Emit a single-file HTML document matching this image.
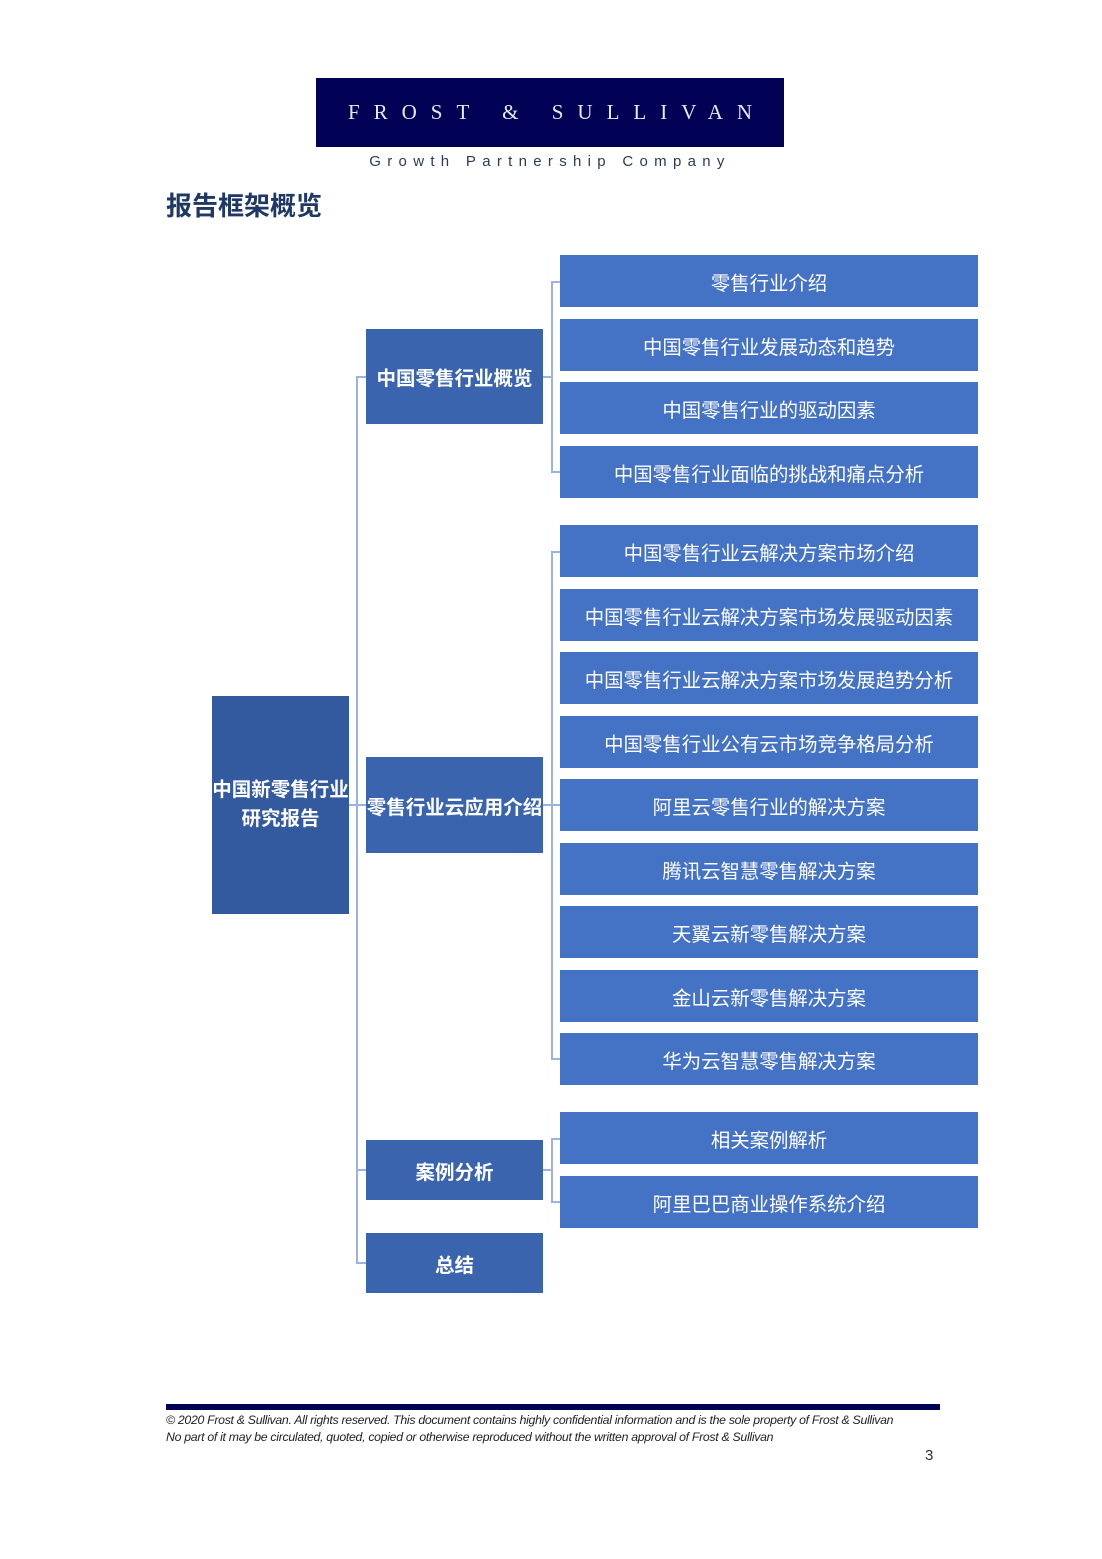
<!DOCTYPE html>
<html><head><meta charset="utf-8"><style>
body{margin:0;width:1102px;height:1559px;background:#fff;position:relative;font-family:"Liberation Sans","Noto Sans CJK SC",sans-serif;overflow:hidden}
.a{position:absolute}
.b{position:absolute;display:flex;align-items:center;justify-content:center;color:#fff;text-align:center}
.r{left:560px;width:418px;height:52px;background:#4472c4;font-size:19.4px}
.m{left:366px;width:177px;background:#3b64ae;font-size:19.5px;font-weight:bold;white-space:nowrap}
.ln{position:absolute;background:#9db3dd}
</style></head><body>
<div class="b" style="left:316px;top:78px;width:468px;height:69px;background:#000055;font-family:'Liberation Serif',serif;font-size:21px;letter-spacing:14px;color:#e8e8f0;padding-left:14px;box-sizing:border-box;white-space:nowrap">FROST &amp; SULLIVAN</div>
<div class="a" style="left:316px;top:153px;width:468px;text-align:center;font-size:15px;letter-spacing:6.3px;color:#2b3a5a">Growth Partnership Company</div>
<div class="a" style="left:166px;top:186px;font-size:26px;font-weight:bold;color:#1f3864">报告框架概览</div>

<div class="ln" style="left:349px;top:804px;width:17px;height:2px"></div>
<div class="ln" style="left:356px;top:377px;width:2px;height:887px"></div>
<div class="ln" style="left:356px;top:376px;width:10px;height:2px"></div>
<div class="ln" style="left:356px;top:1169px;width:10px;height:2px"></div>
<div class="ln" style="left:356px;top:1262px;width:10px;height:2px"></div>
<div class="ln" style="left:543px;top:376px;width:9px;height:2px"></div>
<div class="ln" style="left:543px;top:804px;width:17px;height:2px"></div>
<div class="ln" style="left:543px;top:1169px;width:9px;height:2px"></div>
<div class="ln" style="left:551px;top:281px;width:2px;height:192px"></div>
<div class="ln" style="left:551px;top:551px;width:2px;height:509px"></div>
<div class="ln" style="left:551px;top:1138px;width:2px;height:64px"></div>
<div class="ln" style="left:551px;top:281px;width:9px;height:2px"></div>
<div class="ln" style="left:551px;top:471px;width:9px;height:2px"></div>
<div class="ln" style="left:551px;top:551px;width:9px;height:2px"></div>
<div class="ln" style="left:551px;top:1058px;width:9px;height:2px"></div>
<div class="ln" style="left:551px;top:1138px;width:9px;height:2px"></div>
<div class="ln" style="left:551px;top:1201px;width:9px;height:2px"></div>

<div class="b" style="left:212px;top:696px;width:137px;height:218px;background:#335a9e;font-size:19.5px;font-weight:bold;line-height:29px;white-space:nowrap">中国新零售行业<br>研究报告</div>
<div class="b m" style="top:329px;height:95px">中国零售行业概览</div>
<div class="b m" style="top:757px;height:96px">零售行业云应用介绍</div>
<div class="b m" style="top:1140px;height:60px">案例分析</div>
<div class="b m" style="top:1233px;height:60px">总结</div>

<div class="b r" style="top:255px">零售行业介绍</div>
<div class="b r" style="top:319px">中国零售行业发展动态和趋势</div>
<div class="b r" style="top:382px">中国零售行业的驱动因素</div>
<div class="b r" style="top:446px">中国零售行业面临的挑战和痛点分析</div>
<div class="b r" style="top:525px">中国零售行业云解决方案市场介绍</div>
<div class="b r" style="top:589px">中国零售行业云解决方案市场发展驱动因素</div>
<div class="b r" style="top:652px">中国零售行业云解决方案市场发展趋势分析</div>
<div class="b r" style="top:716px">中国零售行业公有云市场竞争格局分析</div>
<div class="b r" style="top:779px">阿里云零售行业的解决方案</div>
<div class="b r" style="top:843px">腾讯云智慧零售解决方案</div>
<div class="b r" style="top:906px">天翼云新零售解决方案</div>
<div class="b r" style="top:970px">金山云新零售解决方案</div>
<div class="b r" style="top:1033px">华为云智慧零售解决方案</div>
<div class="b r" style="top:1112px">相关案例解析</div>
<div class="b r" style="top:1176px">阿里巴巴商业操作系统介绍</div>

<div class="a" style="left:166px;top:1404px;width:774px;height:6px;background:#000055"></div>
<div class="a" style="left:166px;top:1412px;font-size:12.3px;font-style:italic;color:#222;line-height:17px;letter-spacing:-0.3px;white-space:nowrap">© 2020 Frost &amp; Sullivan. All rights reserved. This document contains highly confidential information and is the sole property of Frost &amp; Sullivan<br>No part of it may be circulated, quoted, copied or otherwise reproduced without the written approval of Frost &amp; Sullivan</div>
<div class="a" style="left:925px;top:1447px;font-size:15px;color:#333">3</div>
</body></html>
